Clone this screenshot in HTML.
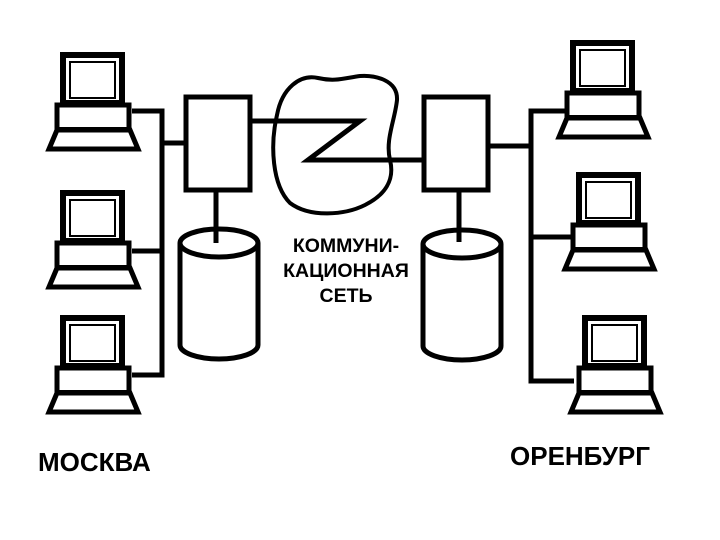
<!DOCTYPE html>
<html><head><meta charset="utf-8"><style>
body{margin:0;background:#fff;width:720px;height:540px;overflow:hidden}
svg{display:block}
text{font-family:"Liberation Sans",sans-serif;font-weight:bold;fill:#000}
</style></head><body>
<svg width="720" height="540" viewBox="0 0 720 540">
<defs>
<g id="pc" fill="none" stroke="#000">
  <rect x="3" y="3" width="59" height="48" stroke-width="6"/>
  <rect x="10" y="10" width="45" height="36" stroke-width="2"/>
  <rect x="-3" y="53" width="72" height="25" stroke-width="5" fill="#fff"/>
  <rect x="-3" y="75" width="72" height="4" fill="#000" stroke="none"/>
  <path d="M-3 78 L70 78 L78 97 L-11 97 Z" stroke-width="5" stroke-linejoin="miter"/>
</g>
</defs>
<use href="#pc" x="60" y="52"/>
<use href="#pc" x="60" y="190"/>
<use href="#pc" x="60" y="315"/>
<use href="#pc" x="570" y="40"/>
<use href="#pc" x="576" y="172"/>
<use href="#pc" x="582" y="315"/>
<g fill="none" stroke="#000" stroke-width="5">
  <path d="M132 111 H162 V375 H132"/>
  <path d="M132 251 H162"/>
  <path d="M162 143 H185"/>
  <rect x="186" y="97" width="64" height="93"/>
  <path d="M216 190 V243"/>
  <rect x="424" y="97" width="64" height="93"/>
  <path d="M459 190 V242"/>
  <path d="M488 146 H531"/>
  <path d="M565 111 H531 V381 H574"/>
  <path d="M531 237 H571"/>
  <path d="M251 121 H360 L308 160 H424"/>
  <path d="M180 243 V345 A39 14 0 0 0 258 345 V243"/>
  <ellipse cx="219" cy="243" rx="39" ry="14"/>
  <path d="M423 244 V346 A39 14 0 0 0 501 346 V244"/>
  <ellipse cx="462" cy="244" rx="39" ry="14"/>
  <path d="M318 78 C300 74 282 88 277 115 C270 145 272 185 290 203 C310 218 345 215 365 205 C385 195 395 180 390 160 C385 140 395 120 397 100 C398 80 375 75 360 76 C345 78 335 82 318 78 Z" stroke-width="4"/>
</g>
<text x="346" y="252" font-size="19.5" text-anchor="middle">КОММУНИ-</text>
<text x="346" y="277" font-size="19.5" text-anchor="middle">КАЦИОННАЯ</text>
<text x="346" y="302" font-size="19.5" text-anchor="middle">СЕТЬ</text>
<text x="38" y="471" font-size="26">МОСКВА</text>
<text x="510" y="465" font-size="26">ОРЕНБУРГ</text>
</svg>
</body></html>
